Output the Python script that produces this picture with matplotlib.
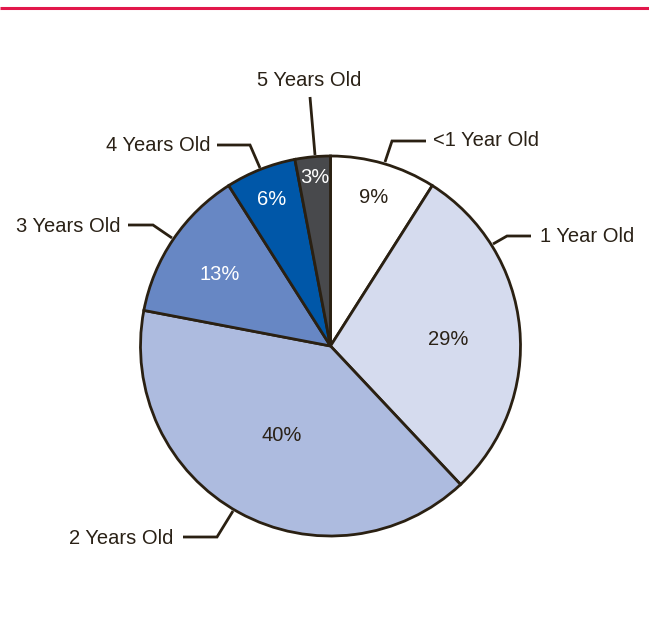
import matplotlib
matplotlib.use("Agg")
import matplotlib.pyplot as plt
import numpy as np

plt.rcParams['font.family'] = ['Liberation Sans', 'DejaVu Sans']

categories = ["<1 Year Old", "1 Year Old", "2 Years Old", "3 Years Old", "4 Years Old", "5 Years Old"]
values = [9, 29, 40, 13, 6, 3]
pct_labels = ["9%", "29%", "40%", "13%", "6%", "3%"]

colors = ["#ffffff", "#d5dbee", "#adbbdf", "#6787c4", "#0057a8", "#48494c"]
pct_colors = ["#2a2116", "#2a2116", "#2a2116", "#ffffff", "#ffffff", "#ffffff"]
edge = "#2a2012"
txt = "#2a2116"

W, H = 649, 626
fig = plt.figure(figsize=(W / 100, H / 100), dpi=100)
ax = fig.add_axes([0, 0, 1, 1])

# top rule
ax.plot([0, W], [H - 8, H - 8], color="#e2174b", lw=2.2, solid_capstyle='butt')

cx, cy, R = 330.5, H - 346, 190
wedges, _ = ax.pie(values, colors=colors, startangle=90, counterclock=False,
                   center=(cx, cy), radius=R, frame=True,
                   wedgeprops=dict(edgecolor=edge, linewidth=2))
ax.set_xlim(0, W)
ax.set_ylim(0, H)
ax.set_aspect('equal')
ax.axis('off')

# percent labels: radius fraction, angle offset (deg)
pct_pos = [(0.82, 0.0), (0.62, -1.5), (0.53, 0.0), (0.70, 1.0), (0.84, 0.0), (0.90, 0.0)]
for w, lab, col, (rf, da) in zip(wedges, pct_labels, pct_colors, pct_pos):
    ang = np.deg2rad((w.theta1 + w.theta2) / 2 + da)
    x = cx + rf * R * np.cos(ang)
    y = cy + rf * R * np.sin(ang)
    ax.text(x, y - 1.5, lab, ha='center', va='center', fontsize=14.5, color=col)

# leader lines: edge point, elbow, end, text anchor (pixel coords from top)
leaders = [
    ((385, 162), (392, 141), (426, 141), (433, 141), 'left'),
    ((493, 244), (507, 236), (531, 236), (540, 236.5), 'left'),
    ((233, 511), (217, 537), (183, 537), (173, 538.5), 'right'),
    ((172, 238), (153, 225), (128, 225), (120, 226.5), 'right'),
    ((260, 168), (250, 145), (217, 145), (210, 145.5), 'right'),
    ((315, 155), (310, 97), (310, 97), (309, 80), 'center'),
]
for cat, (p0, p1, p2, pt, ha) in zip(categories, leaders):
    xs = [p0[0], p1[0], p2[0]]
    ys = [H - p0[1], H - p1[1], H - p2[1]]
    ax.plot(xs, ys, color=edge, lw=2, solid_joinstyle='miter', solid_capstyle='butt')
    ax.text(pt[0], H - pt[1], cat, ha=ha, va='center', fontsize=14.5, color=txt)

fig.savefig("out.png", dpi=100)
